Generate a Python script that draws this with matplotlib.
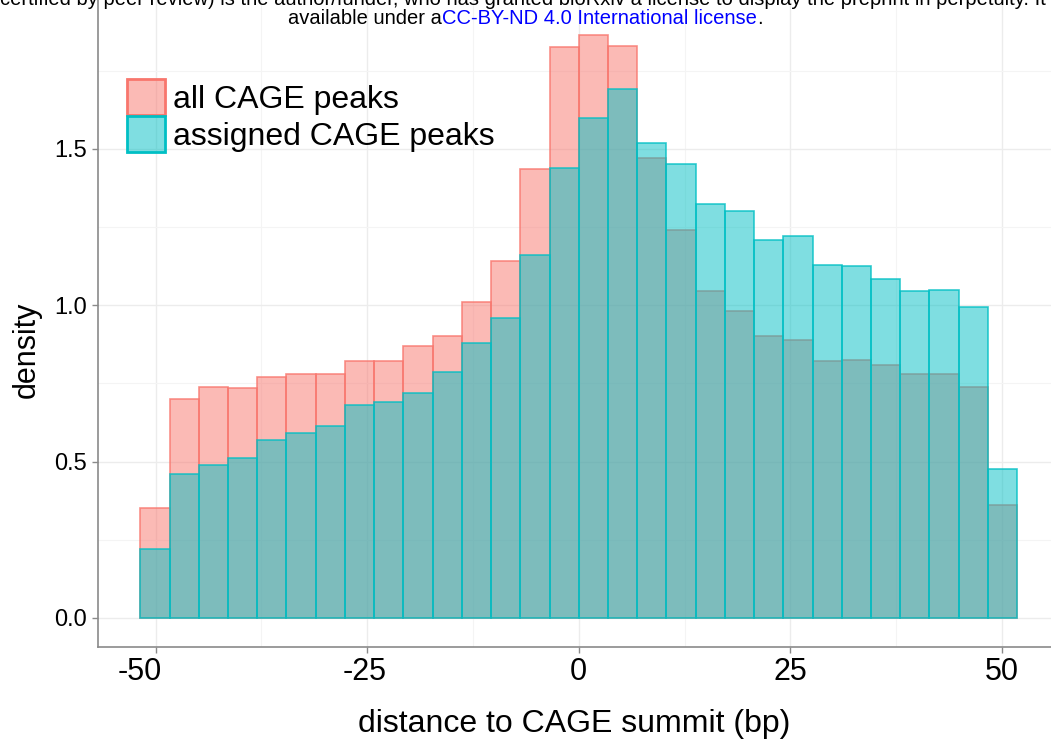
import numpy as np
import matplotlib.pyplot as plt
import matplotlib.transforms as mtransforms
from matplotlib.patches import Patch

plt.rcParams['font.family'] = ['Liberation Sans', 'DejaVu Sans']

# histogram bins (30 equal bins, symmetric around 0)
bin_edges = np.linspace(-51.8, 51.8, 31)
all_peaks = [0.35, 0.70, 0.74, 0.735, 0.77, 0.78, 0.78, 0.82, 0.82, 0.87,
             0.90, 1.01, 1.14, 1.435, 1.825, 1.865, 1.83, 1.47, 1.24, 1.045,
             0.98, 0.90, 0.89, 0.82, 0.825, 0.81, 0.78, 0.78, 0.74, 0.36]
assigned_peaks = [0.22, 0.46, 0.49, 0.51, 0.57, 0.59, 0.615, 0.68, 0.69, 0.72,
                  0.785, 0.88, 0.96, 1.16, 1.44, 1.60, 1.69, 1.52, 1.45, 1.325,
                  1.30, 1.21, 1.22, 1.13, 1.125, 1.085, 1.045, 1.05, 0.995, 0.475]
series_names = ['all CAGE peaks', 'assigned CAGE peaks']
x_ticks = [-50, -25, 0, 25, 50]
y_ticks = [0.0, 0.5, 1.0, 1.5]

red = '#F8766D'
teal = '#00BFC4'
red_fill = (248/255, 118/255, 109/255, 0.5)
teal_fill = (0, 191/255, 196/255, 0.5)

fig = plt.figure(figsize=(10.51, 7.42), dpi=100)
ax = fig.add_axes([98 / 1051, (742 - 647) / 742, 1 - 98 / 1051, 647 / 742])

width = bin_edges[1] - bin_edges[0]
ax.bar(bin_edges[:-1], all_peaks, width=width, align='edge', facecolor=red_fill,
       edgecolor=(248/255, 118/255, 109/255, 0.8), linewidth=1.2, zorder=2)
ax.bar(bin_edges[:-1], assigned_peaks, width=width, align='edge', facecolor=teal_fill,
       edgecolor=(0, 191/255, 196/255, 0.8), linewidth=1.2, zorder=3)

ax.set_xlim(-56.8, 55.8)
ax.set_ylim(-0.093, 1.976)
ax.set_xticks(x_ticks)
ax.set_yticks(y_ticks)
ax.set_xticklabels([str(t) for t in x_ticks], fontsize=22)
ax.set_yticklabels(['%.1f' % t for t in y_ticks], fontsize=17)
ax.set_xticks([-37.5, -12.5, 12.5, 37.5], minor=True)
ax.set_yticks([0.25, 0.75, 1.25, 1.75], minor=True)
ax.grid(True, which='major', color='#ececec', linewidth=1.0, zorder=0)
ax.grid(True, which='minor', color='#f4f4f4', linewidth=0.8, zorder=0)
ax.set_axisbelow(True)
ax.tick_params(which='major', length=4, color='#8a8a8a', width=1, labelcolor='black')
ax.tick_params(which='minor', length=0)
ax.tick_params(axis='x', pad=3)
ax.tick_params(axis='y', pad=4)
for side in ['top', 'right']:
    ax.spines[side].set_visible(False)
for side in ['left', 'bottom']:
    ax.spines[side].set_color('#8a8a8a')
    ax.spines[side].set_linewidth(1.2)

# the -50 / -25 labels sit slightly left of their ticks in the original
shifts = [-16, -3, 0, 0, 0]
for lab, dx in zip(ax.get_xticklabels(), shifts):
    lab.set_transform(lab.get_transform() +
                      mtransforms.ScaledTranslation(dx / 100, 0, fig.dpi_scale_trans))

ax.set_xlabel('distance to CAGE summit (bp)', fontsize=23, labelpad=16)
ax.set_ylabel('density', fontsize=22)
ax.yaxis.set_label_coords(-0.059, 0.459)

handles = [Patch(facecolor=red_fill, edgecolor=red, linewidth=2),
           Patch(facecolor=teal_fill, edgecolor=teal, linewidth=2)]
ax.legend(handles, series_names, loc='upper left', bbox_to_anchor=(0.030, 0.878),
          frameon=False, fontsize=23, handlelength=1.2, handleheight=1.35,
          handletextpad=0.25, labelspacing=0.05, borderaxespad=0, borderpad=0)

# preprint header (cut off at the top and right)
fig.text(0.0, 5 / 742 * -1 + 1, 'certified by peer review) is the author/funder, who has granted '
         'bioRxiv a license to display the preprint in perpetuity. It is made',
         ha='left', va='baseline', fontsize=14.5)
parts = [('available under a', 'black'), ('CC-BY-ND 4.0 International license', 'blue'), ('.', 'black')]
fig.canvas.draw()
r = fig.canvas.get_renderer()
widths = []
texts = []
for s, c in parts:
    tt = fig.text(0, 1 - 19 / 742, s, color=c, fontsize=14.5, va='center')
    texts.append(tt)
    widths.append(tt.get_window_extent(r).width / fig.bbox.width)
x0 = 0.5 - sum(widths) / 2
for tt, w in zip(texts, widths):
    tt.set_x(x0)
    x0 += w

fig.savefig('out.png', dpi=100)
